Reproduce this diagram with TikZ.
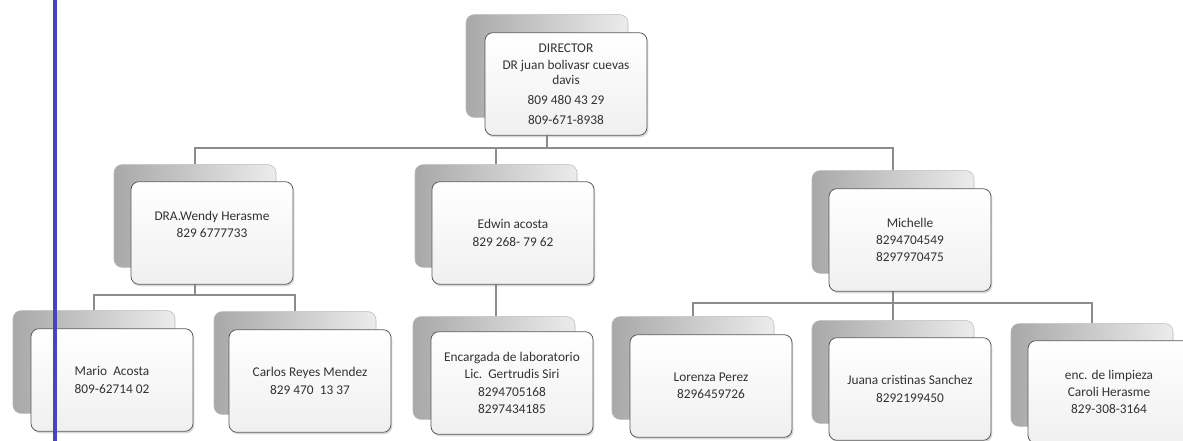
\documentclass[tikz,border=0pt]{standalone}
\usepackage{fontspec}
\setmainfont{Carlito}
\usetikzlibrary{shadows,backgrounds}
\definecolor{conngray}{RGB}{140,140,140}
\definecolor{margblue}{RGB}{70,70,190}
\definecolor{margdark}{RGB}{35,35,110}
\definecolor{txtgray}{RGB}{50,50,50}
\tikzset{
  back/.style={rounded corners=6pt, draw=gray!55, left color=gray!68, right color=gray!15,
    minimum width=121.5pt, minimum height=77pt, inner sep=0pt},
  front/.style={rounded corners=6pt, draw=black!65, line width=0.6pt, top color=white,
    bottom color=gray!12, minimum width=121.5pt, minimum height=77pt, align=center,
    text=txtgray, font=\fontsize{10}{13}\selectfont,
    drop shadow={opacity=0.3, shadow xshift=1pt, shadow yshift=-1.5pt}},
  conn/.style={draw=conngray, line width=2pt},
  margline/.style={draw=margdark, line width=0.5pt, double=margblue, double distance=2.4pt},
}
\begin{document}
\begin{tikzpicture}[x=0.75pt,y=-0.75pt]
\useasboundingbox (0,0) rectangle (1183,441);
\coordinate (c0) at (547,66);
\coordinate (c1) at (195,216);
\coordinate (c2) at (496,216);
\coordinate (c3) at (893,222);
\coordinate (c4) at (94,362);
\coordinate (c5) at (295,363);
\coordinate (c6) at (494,368);
\coordinate (c7) at (693,368);
\coordinate (c8) at (893,372);
\coordinate (c9) at (1092,375);
\coordinate (bus1) at (547,148);
\coordinate (bus2) at (195,295);
\coordinate (bus3) at (893,303);
\coordinate (m1) at (55,0);
\coordinate (m2) at (55,441);

  % director
  \node (dirb) at (c0) [back] {};
  \node (dir) at ([shift={(19,18)}]c0) [front] {DIRECTOR\\DR juan bolivasr cuevas\\[-2pt]davis\\[2pt]809 480 43 29\\[2pt]809-671-8938};
  % second row
  \node (wenb) at (c1) [back] {};
  \node (wen) at ([shift={(17,17)}]c1) [front] {DRA.Wendy Herasme\\829 6777733\\ \mbox{}};
  \node (edwb) at (c2) [back] {};
  \node (edw) at ([shift={(17,17)}]c2) [front] {Edwin acosta\\829 268- 79 62};
  \node (micb) at (c3) [back] {};
  \node (mic) at ([shift={(17,18)}]c3) [front] {Michelle\\8294704549\\8297970475};
  % third row
  \node (marb) at (c4) [back] {};
  \node (mar) at ([shift={(18,18)}]c4) [front] {Mario\ \ Acosta\\809-62714 02};
  \node (carb) at (c5) [back] {};
  \node (car) at ([shift={(15,18)}]c5) [front] {Carlos Reyes Mendez\\829 470\ \ 13 37};
  \node (encb) at (c6) [back] {};
  \node (enc) at ([shift={(18,15)}]c6) [front] {Encargada de laboratorio\\Lic.\ \ Gertrudis Siri\\8294705168\\8297434185};
  \node (lorb) at (c7) [back] {};
  \node (lor) at ([shift={(18,18)}]c7) [front] {Lorenza Perez\\8296459726};
  \node (junb) at (c8) [back] {};
  \node (jun) at ([shift={(17,17)}]c8) [front] {Juana cristinas Sanchez\\8292199450};
  \node (clnb) at (c9) [back] {};
  \node (cln) at ([shift={(17,17)}]c9) [front] {enc. de limpieza\\Caroli Herasme\\829-308-3164};

  \begin{scope}[on background layer]
  \draw[conn] (dirb.south) -- (bus1);
  \draw[conn] (wenb.north) |- (bus1) -| (micb.north);
  \draw[conn] (edwb.north) -- (edwb.north |- bus1);
  \draw[conn] (wenb.south) -- (bus2);
  \draw[conn] (marb.north) |- (bus2) -| (carb.north);
  \draw[conn] (edwb.south) -- (edwb.south |- encb.north);
  \draw[conn] (micb.south) -- (junb.north);
  \draw[conn] (lorb.north) |- (bus3) -| (clnb.north);
  \end{scope}

  % margin line
  \draw[margline] (m1) -- (m2);
\end{tikzpicture}
\end{document}
